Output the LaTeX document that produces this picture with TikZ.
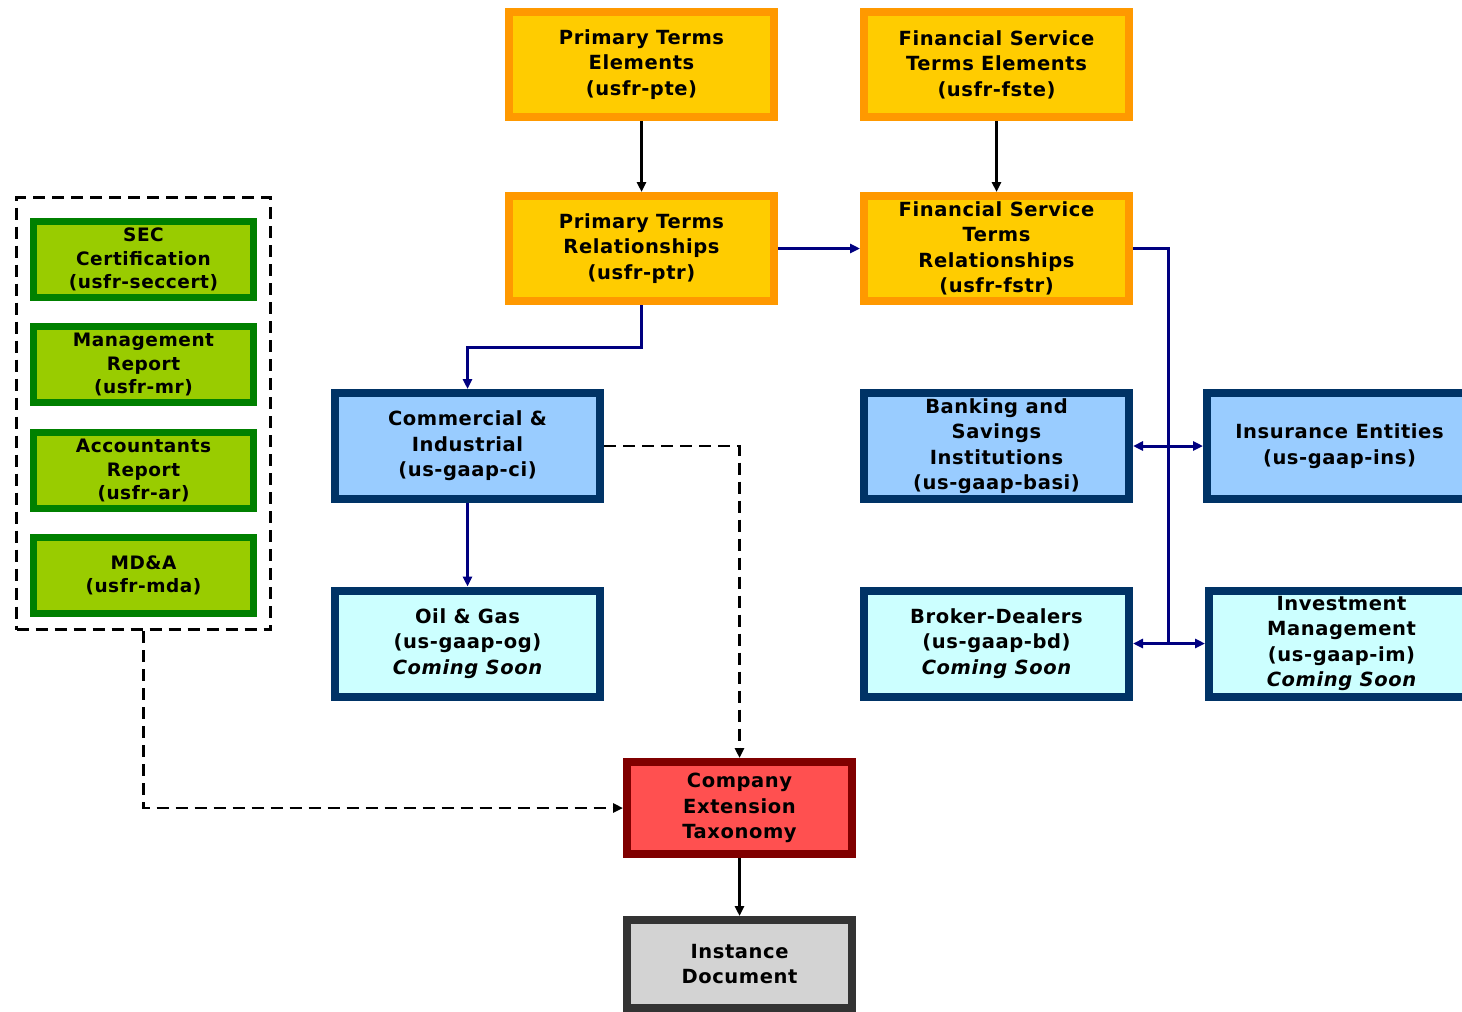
\documentclass[tikz,border=0pt]{standalone}
\usepackage{fontspec}
\setmainfont{DejaVu Sans}
\newfontfamily\boxfont{DejaVu Sans}[LetterSpace=3]
\usetikzlibrary{arrows.meta}

\definecolor{orgline}{HTML}{FF9900}
\definecolor{orgfill}{HTML}{FFCC00}
\definecolor{grnline}{HTML}{008000}
\definecolor{grnfill}{HTML}{99CC00}
\definecolor{bluline}{HTML}{003366}
\definecolor{blufill}{HTML}{99CCFF}
\definecolor{cyanfill}{HTML}{CCFFFF}
\definecolor{redline}{HTML}{800000}
\definecolor{redfill}{HTML}{FF5050}
\definecolor{gryline}{HTML}{333333}
\definecolor{gryfill}{HTML}{D3D3D3}
\definecolor{navline}{HTML}{000080}

\begin{document}
\begin{tikzpicture}[
  box/.style={rectangle,draw,align=center,inner sep=0pt,
    font=\boxfont\fontsize{19.5}{25.5}\selectfont\bfseries},
  orgbox/.style={box,draw=orgline,fill=orgfill,line width=8pt,
    minimum width=265pt,minimum height=105pt},
  grnbox/.style={box,draw=grnline,fill=grnfill,line width=7pt,
    minimum width=220pt,minimum height=76pt,
    font=\boxfont\fontsize{18.5}{23.5}\selectfont\bfseries},
  blubox/.style={box,draw=bluline,fill=blufill,line width=8pt,
    minimum width=265pt,minimum height=106pt},
  cyanbox/.style={blubox,fill=cyanfill},
  blk/.style={line width=2.5pt,-{Triangle[length=10pt,width=9pt]}},
  nav/.style={draw=navline,line width=3pt,-{Triangle[length=10pt,width=9pt]}},
  twoway/.style={nav,{Triangle[length=10pt,width=9pt]}-{Triangle[length=10pt,width=9pt]}},
  dsh/.style={blk,dash pattern=on 12pt off 7pt}]
\pgfsetxvec{\pgfpoint{1pt}{0}}
\pgfsetyvec{\pgfpoint{0}{-1pt}}
  \useasboundingbox (0,0) rectangle (1462,1012);
  \clip (0,0) rectangle (1462,1012);

  \node[orgbox] (pte) at (641.5,64.5) {Primary Terms\\Elements\\(usfr-pte)};
  \node[orgbox] (fste) at (996.5,64.5) {Financial Service\\Terms Elements\\(usfr-fste)};
  \node[orgbox] (ptr) at (641.5,248.5) {Primary Terms\\Relationships\\(usfr-ptr)};
  \node[orgbox] (fstr) at (996.5,248.5) {Financial Service\\Terms\\Relationships\\(usfr-fstr)};

  \node[rectangle,draw,line width=3pt,dash pattern=on 12pt off 7pt,
    minimum width=254pt,minimum height=432pt] (grp) at (143.5,413.5) {};
  \node[grnbox] (sec) at (143.5,259.5) {SEC\\Certification\\(usfr-seccert)};
  \node[grnbox] (mr) at (143.5,364.5) {Management\\Report\\(usfr-mr)};
  \node[grnbox] (ar) at (143.5,470.5) {Accountants\\Report\\(usfr-ar)};
  \node[grnbox] (mda) at (143.5,575.5) {MD\&A\\(usfr-mda)};

  \node[blubox] (ci) at (467.5,446) {Commercial \&\\Industrial\\(us-gaap-ci)};
  \node[cyanbox] (og) at (467.5,643.5) {Oil \& Gas\\(us-gaap-og)\\{\itshape Coming Soon}};
  \node[blubox] (basi) at (996.5,446) {Banking and\\Savings\\Institutions\\(us-gaap-basi)};
  \node[blubox] (ins) at (1339.5,446) {Insurance Entities\\(us-gaap-ins)};
  \node[cyanbox] (bd) at (996.5,643.5) {Broker-Dealers\\(us-gaap-bd)\\{\itshape Coming Soon}};
  \node[cyanbox] (im) at (1341.5,643.5) {Investment\\Management\\(us-gaap-im)\\{\itshape Coming Soon}};

  \node[box,draw=redline,fill=redfill,line width=8pt,
    minimum width=225pt,minimum height=92pt] (cet) at (739.5,808) {Company\\Extension\\Taxonomy};
  \node[box,draw=gryline,fill=gryfill,line width=8pt,
    minimum width=225pt,minimum height=88pt] (id) at (739.5,964) {Instance\\Document};

  \coordinate (ptrjoin) at (641.5,347);
  \coordinate (bustop) at (1168,248.5);
  \coordinate (busbot) at (1168,643.5);

  \draw[blk] (pte) -- (ptr);
  \draw[blk] (fste) -- (fstr);
  \draw[nav] (ptr) -- (fstr);
  \draw[nav] (ptr) -- (ptrjoin) -| (ci);
  \draw[nav] (ci) -- (og);
  \draw[nav,-] (fstr) -- (bustop) -- (busbot);
  \draw[twoway] (basi) -- (ins);
  \draw[twoway] (bd) -- (im);
  \draw[dsh] (ci) -| (cet);
  \draw[dsh] (grp) |- (cet);
  \draw[blk] (cet) -- (id);
 \end{tikzpicture}
\end{document}
